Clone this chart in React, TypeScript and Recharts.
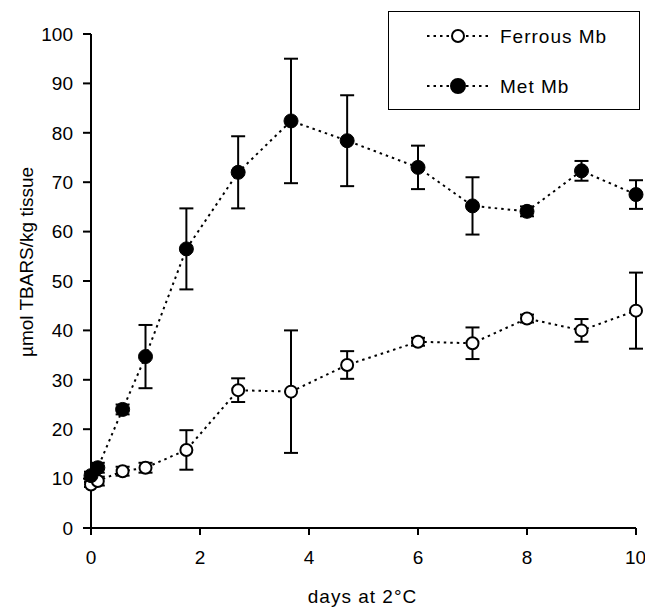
import React from "react";
import { LineChart, Line, XAxis, YAxis, ErrorBar, Legend } from "recharts";

const days = [0, 0.125, 0.58, 1, 1.75, 2.7, 3.67, 4.7, 6, 7, 8, 9, 10];
const metMean = [10.6, 12.2, 24, 34.7, 56.5, 72, 82.4, 78.4, 73, 65.2, 64.1, 72.3, 67.5];
const metErr = [0.8, 1, 1, 6.4, 8.2, 7.3, 12.6, 9.2, 4.4, 5.8, 1, 2, 2.9];
const ferrousMean = [8.8, 9.5, 11.5, 12.2, 15.8, 27.9, 27.6, 33, 37.7, 37.4, 42.4, 40, 44];
const ferrousErr = [0.5, 0.9, 0.9, 1, 4, 2.4, 12.4, 2.8, 0.8, 3.2, 0.8, 2.3, 7.7];
const xTicks = [0, 2, 4, 6, 8, 10];
const yTicks = [0, 10, 20, 30, 40, 50, 60, 70, 80, 90, 100];

const metData = days.map((d, i) => ({ day: d, value: metMean[i], err: metErr[i] }));
const ferrousData = days.map((d, i) => ({ day: d, value: ferrousMean[i], err: ferrousErr[i] }));

const FONT = "'Liberation Sans', Arial, sans-serif";
const DASH = "2.5 4";

function LegendBox() {
  const rows = [
    { name: "Ferrous Mb", filled: false },
    { name: "Met Mb", filled: true },
  ];
  return (
    <svg width={250} height={97} style={{ display: "block" }}>
      {rows.map((r, i) => {
        const y = 24 + i * 50;
        return (
          <g key={r.name}>
            <line x1={38} x2={100} y1={y} y2={y} stroke="#000" strokeWidth={2} strokeDasharray={DASH} />
            <circle cx={69} cy={y} r={r.filled ? 7 : 6} fill={r.filled ? "#000" : "#fff"} stroke="#000" strokeWidth={2} />
            <text x={111} y={y + 7} fontFamily={FONT} fontSize={19} letterSpacing={1} fill="#000">
              {r.name}
            </text>
          </g>
        );
      })}
    </svg>
  );
}

export default function App() {
  return (
    <div style={{ position: "absolute", left: 0, top: 0, background: "#fff" }}>
      <LineChart width={645} height={609} margin={{ top: 34, right: 9, left: 0, bottom: 0 }}>
        <XAxis
          type="number"
          dataKey="day"
          domain={[0, 10]}
          ticks={xTicks}
          height={81}
          tickSize={7}
          tickMargin={16}
          stroke="#000"
          strokeWidth={2}
          tick={{ fontSize: 19, fontFamily: FONT, fill: "#000" }}
          label={{
            content: (p: any) => (
              <text
                x={p.viewBox.x + p.viewBox.width / 2 - 1}
                y={603}
                textAnchor="middle"
                fontFamily={FONT}
                fontSize={19}
                letterSpacing={1}
                fill="#000"
              >
                days at 2°C
              </text>
            ),
          }}
        />
        <YAxis
          type="number"
          domain={[0, 100]}
          ticks={yTicks}
          width={91}
          tickSize={8}
          tickMargin={10}
          stroke="#000"
          strokeWidth={2}
          tick={{ fontSize: 19, fontFamily: FONT, fill: "#000" }}
          label={{
            content: () => (
              <text
                x={33}
                y={262}
                transform="rotate(-90, 33, 262)"
                textAnchor="middle"
                fontFamily={FONT}
                fontSize={19}
                fill="#000"
              >
                µmol TBARS/kg tissue
              </text>
            ),
          }}
        />
        <Legend
          layout="horizontal"
          verticalAlign="middle"
          align="center"
          content={() => <LegendBox />}
          wrapperStyle={{
            position: "absolute",
            left: 388,
            top: 11,
            width: 250,
            height: 97,
            border: "1.5px solid #000",
            background: "#fff",
          }}
        />
        <Line
          data={ferrousData}
          dataKey="value"
          name="Ferrous Mb"
          stroke="#000"
          strokeWidth={2}
          strokeDasharray={DASH}
          dot={{ r: 6, fill: "#fff", stroke: "#000", strokeWidth: 2, strokeDasharray: "0" }}
          activeDot={false}
          isAnimationActive={false}
        >
          <ErrorBar dataKey="err" width={7} stroke="#000" strokeWidth={2} direction="y" />
        </Line>
        <Line
          data={metData}
          dataKey="value"
          name="Met Mb"
          stroke="#000"
          strokeWidth={2}
          strokeDasharray={DASH}
          dot={{ r: 7, fill: "#000", stroke: "#000", strokeWidth: 1, strokeDasharray: "0" }}
          activeDot={false}
          isAnimationActive={false}
        >
          <ErrorBar dataKey="err" width={7} stroke="#000" strokeWidth={2} direction="y" />
        </Line>
      </LineChart>
    </div>
  );
}
